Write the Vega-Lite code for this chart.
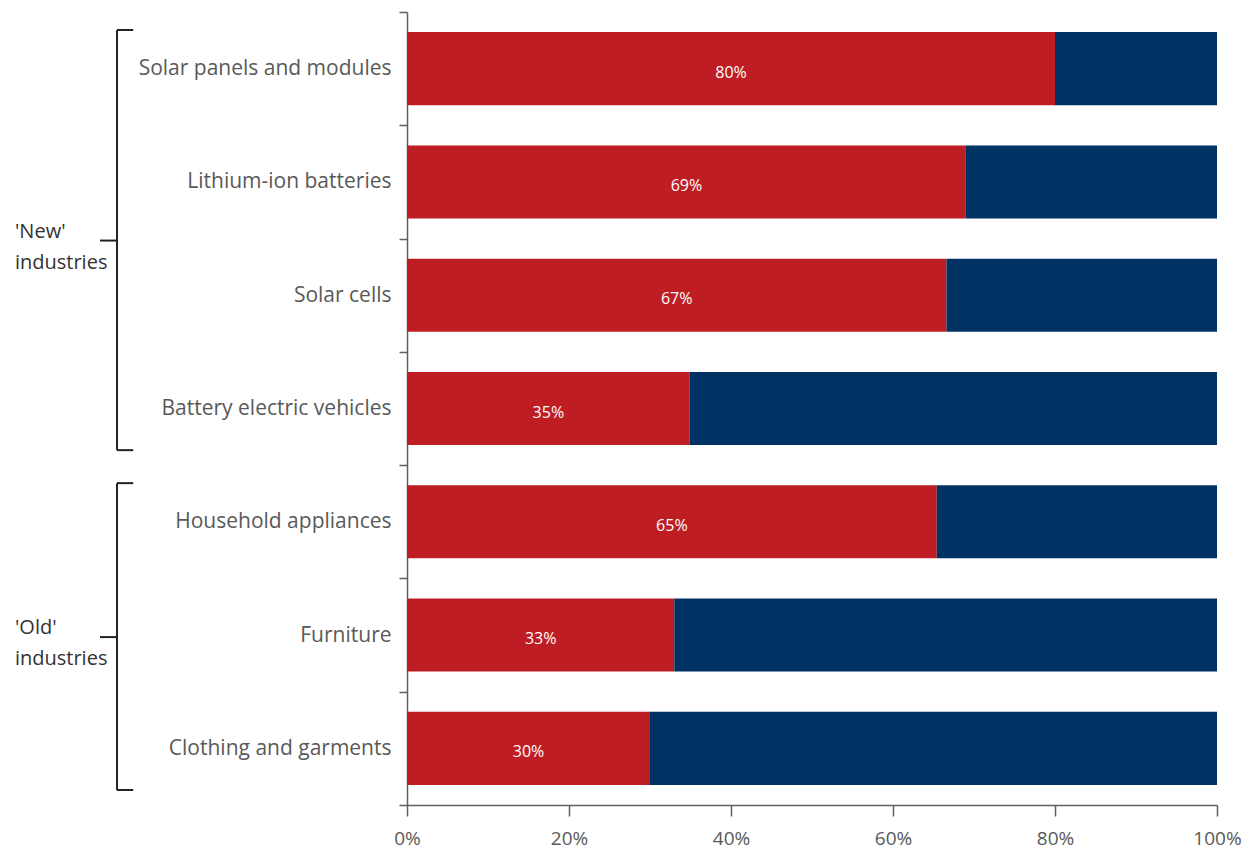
{
  "$schema": "https://vega.github.io/schema/vega-lite/v6.json",
  "width": 810,
  "height": 793,
  "autosize": {"type": "none"},
  "padding": {"left": 407, "top": 12, "right": 30, "bottom": 50},
  "background": "white",
  "config": {
    "view": {"stroke": null},
    "font": "Open Sans",
    "axisX": {
      "grid": false,
      "tickSize": 11, "tickColor": "#5f5f5f", "domainColor": "#5f5f5f", "domainWidth": 1.5, "tickWidth": 1.5,
      "labelFontSize": 19, "labelColor": "#595959", "labelPadding": 13, "labelFlush": false
    }
  },
  "datasets": {
    "bars": [
      {"industry": "Solar panels and modules", "part": "China", "share": 0.80},
      {"industry": "Solar panels and modules", "part": "Rest of world", "share": 0.20},
      {"industry": "Lithium-ion batteries", "part": "China", "share": 0.69},
      {"industry": "Lithium-ion batteries", "part": "Rest of world", "share": 0.31},
      {"industry": "Solar cells", "part": "China", "share": 0.666},
      {"industry": "Solar cells", "part": "Rest of world", "share": 0.334},
      {"industry": "Battery electric vehicles", "part": "China", "share": 0.349},
      {"industry": "Battery electric vehicles", "part": "Rest of world", "share": 0.651},
      {"industry": "Household appliances", "part": "China", "share": 0.654},
      {"industry": "Household appliances", "part": "Rest of world", "share": 0.346},
      {"industry": "Furniture", "part": "China", "share": 0.33},
      {"industry": "Furniture", "part": "Rest of world", "share": 0.67},
      {"industry": "Clothing and garments", "part": "China", "share": 0.30},
      {"industry": "Clothing and garments", "part": "Rest of world", "share": 0.70}
    ],
    "groups": [
      {"group": "'New'\nindustries", "start": 0, "end": 4, "mid": 2},
      {"group": "'Old'\nindustries", "start": 4, "end": 7, "mid": 5.5}
    ]
  },
  "layer": [
    {
      "data": {"name": "bars"},
      "layer": [
        {
          "mark": {"type": "bar", "height": {"band": 0.645}},
          "encoding": {
            "y": {
              "field": "industry", "type": "nominal", "sort": null,
              "scale": {"paddingInner": 0, "paddingOuter": 0},
              "axis": {
                "title": null, "tickBand": "extent", "tickSize": 8, "tickColor": "#5f5f5f",
                "domainColor": "#5f5f5f", "domainWidth": 1.5, "tickWidth": 1.5,
                "labelFontSize": 21, "labelColor": "#595959", "labelPadding": 8, "labelLimit": 400
              }
            },
            "x": {
              "field": "share", "type": "quantitative", "stack": "zero",
              "scale": {"domain": [0, 1], "nice": false},
              "axis": {"title": null, "values": [0, 0.2, 0.4, 0.6, 0.8, 1], "format": ".0%"}
            },
            "color": {
              "field": "part", "type": "nominal",
              "scale": {"domain": ["China", "Rest of world"], "range": ["#BE1E23", "#003264"]},
              "legend": null
            },
            "order": {"field": "part"}
          }
        },
        {
          "transform": [{"filter": "datum.part === 'China'"}],
          "mark": {"type": "text", "color": "white", "fontSize": 16, "align": "center", "baseline": "middle", "dy": 4},
          "encoding": {
            "y": {"field": "industry", "type": "nominal", "sort": null},
            "x": {"field": "share", "type": "quantitative", "stack": "zero", "bandPosition": 0.5, "axis": {"title": null, "values": [0, 0.2, 0.4, 0.6, 0.8, 1], "format": ".0%"}},
            "text": {"field": "share", "format": ".0%"}
          }
        }
      ]
    },
    {
      "data": {"name": "groups"},
      "layer": [
        {
          "mark": {"type": "rule", "color": "#222222", "strokeWidth": 2, "yOffset": 18, "y2Offset": -15},
          "encoding": {
            "x": {"datum": -0.358, "type": "quantitative", "axis": {"title": null, "values": [0, 0.2, 0.4, 0.6, 0.8, 1], "format": ".0%"}},
            "y": {"field": "start", "type": "quantitative", "scale": {"domain": [0, 7], "reverse": true, "nice": false, "zero": false}, "axis": null},
            "y2": {"field": "end"}
          }
        },
        {
          "mark": {"type": "rule", "color": "#222222", "strokeWidth": 2, "yOffset": 18},
          "encoding": {
            "x": {"datum": -0.358, "type": "quantitative", "axis": {"title": null, "values": [0, 0.2, 0.4, 0.6, 0.8, 1], "format": ".0%"}},
            "x2": {"datum": -0.338},
            "y": {"field": "start", "type": "quantitative", "axis": null}
          }
        },
        {
          "mark": {"type": "rule", "color": "#222222", "strokeWidth": 2, "yOffset": -15},
          "encoding": {
            "x": {"datum": -0.358, "type": "quantitative", "axis": {"title": null, "values": [0, 0.2, 0.4, 0.6, 0.8, 1], "format": ".0%"}},
            "x2": {"datum": -0.338},
            "y": {"field": "end", "type": "quantitative", "axis": null}
          }
        },
        {
          "mark": {"type": "rule", "color": "#222222", "strokeWidth": 2, "yOffset": 2},
          "encoding": {
            "x": {"datum": -0.379, "type": "quantitative", "axis": {"title": null, "values": [0, 0.2, 0.4, 0.6, 0.8, 1], "format": ".0%"}},
            "x2": {"datum": -0.358},
            "y": {"field": "mid", "type": "quantitative", "axis": null}
          }
        },
        {
          "mark": {"type": "text", "color": "#333333", "fontSize": 20, "align": "left", "baseline": "middle", "lineBreak": "\n", "lineHeight": 31, "yOffset": -7},
          "encoding": {
            "x": {"datum": -0.484, "type": "quantitative", "axis": {"title": null, "values": [0, 0.2, 0.4, 0.6, 0.8, 1], "format": ".0%"}},
            "y": {"field": "mid", "type": "quantitative", "axis": null},
            "text": {"field": "group"}
          }
        }
      ]
    }
  ],
  "resolve": {"scale": {"y": "independent"}}
}
